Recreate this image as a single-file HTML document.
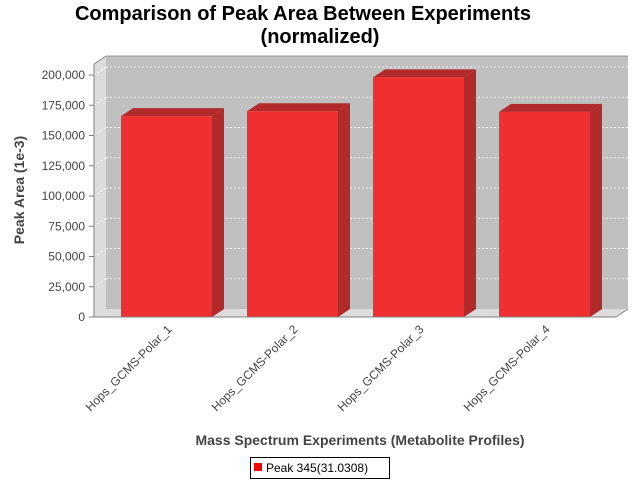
<!DOCTYPE html>
<html><head><meta charset="utf-8"><style>
body{margin:0;background:#fff;font-family:"Liberation Sans","DejaVu Sans",sans-serif}
</style></head><body>
<svg width="640" height="480" xmlns="http://www.w3.org/2000/svg" font-family="Liberation Sans, DejaVu Sans, sans-serif">
<text x="303" y="20" text-anchor="middle" font-size="20" font-weight="bold">Comparison of Peak Area Between Experiments</text>
<text x="320" y="43" text-anchor="middle" font-size="20" font-weight="bold">(normalized)</text>
<polygon points="106,56 628,56 628,309 106,309" fill="#c0c0c0"/>
<polygon points="94,64 106,56 106,309 94,317" fill="#dcdcdc"/>
<polygon points="94,317 106,309 628,309 616,317" fill="#dcdcdc"/>
<g id="grid"></g>
<g id="ticks"></g>
<g id="bars"></g>
<line x1="94" y1="64" x2="94" y2="317" stroke="#808080"/>
<line x1="94" y1="317" x2="616" y2="317" stroke="#808080"/>
<polyline points="94,64 106,56 628,56" fill="none" stroke="#808080" stroke-width="0.8"/>
<polyline points="628,309 616,317" fill="none" stroke="#808080" stroke-width="0.8"/>
<text transform="translate(24,190) rotate(-90)" text-anchor="middle" font-size="14" font-weight="bold" fill="#444">Peak Area (1e-3)</text>
<text x="360" y="445" text-anchor="middle" font-size="14" font-weight="bold" fill="#444">Mass Spectrum Experiments (Metabolite Profiles)</text>
<g>
<rect x="250.5" y="457.5" width="139" height="21" fill="#fff" stroke="#000"/>
<rect x="254" y="463" width="8" height="8" fill="#ff0000"/>
<text x="266" y="472" font-size="12">Peak 345(31.0308)</text>
</g>
</svg>
<script>
const categories=["Hops_GCMS-Polar_1","Hops_GCMS-Polar_2","Hops_GCMS-Polar_3","Hops_GCMS-Polar_4"];
const values=[166000,170000,198000,169500];
const tickValues=[0,25000,50000,75000,100000,125000,150000,175000,200000];
const tickLabels=["0","25,000","50,000","75,000","100,000","125,000","150,000","175,000","200,000"];
const NS="http://www.w3.org/2000/svg";
const y0=317,ppu=242/200000,dx=12,dy=8;
function yScale(v){return y0-v*ppu;}
function xBand(i){return 121+i*126;}
const bw=91;
function mk(t,a,p){const e=document.createElementNS(NS,t);for(const k in a)e.setAttribute(k,a[k]);p.appendChild(e);return e;}
const grid=document.getElementById('grid'),ticks=document.getElementById('ticks'),bars=document.getElementById('bars');
tickValues.forEach((v,i)=>{
 const y=yScale(v);
 if(v>0){const g=mk('line',{x1:106,y1:y-dy,x2:628,y2:y-dy,stroke:'#fff','stroke-dasharray':'2,2','stroke-width':0.8},grid);
 
 
 const g2=mk('line',{x1:94,y1:y,x2:106,y2:y-dy,stroke:'#fff','stroke-dasharray':'2,2','stroke-width':0.8},grid);}
 const t=mk('line',{x1:89,y1:y,x2:94,y2:y,stroke:'#808080'},ticks);
 const l=mk('text',{x:85,y:y+4,'text-anchor':'end','font-size':12,fill:'#444'},ticks);
 l.textContent=tickLabels[i];
 
 
});
values.forEach((v,i)=>{
 const x=xBand(i),yt=yScale(v);
 const g=mk('g',{},bars);
 
 
 mk('polygon',{points:`${x},${yt} ${x+dx},${yt-dy} ${x+bw+dx},${yt-dy} ${x+bw},${yt}`,fill:'#b22a2a'},g);
 mk('polygon',{points:`${x+bw},${yt} ${x+bw+dx},${yt-dy} ${x+bw+dx},${y0-dy} ${x+bw},${y0}`,fill:'#b22a2a'},g);
 mk('rect',{x:x,y:yt,width:bw,height:y0-yt,fill:'#f03030'},g);
 const cx=x+bw/2+6;
 const l=mk('text',{x:cx,y:330,'text-anchor':'end','font-size':12,fill:'#444',transform:`rotate(-45 ${cx} 330)`},bars);
 l.textContent=categories[i];
 
 
});
</script>
</body></html>
